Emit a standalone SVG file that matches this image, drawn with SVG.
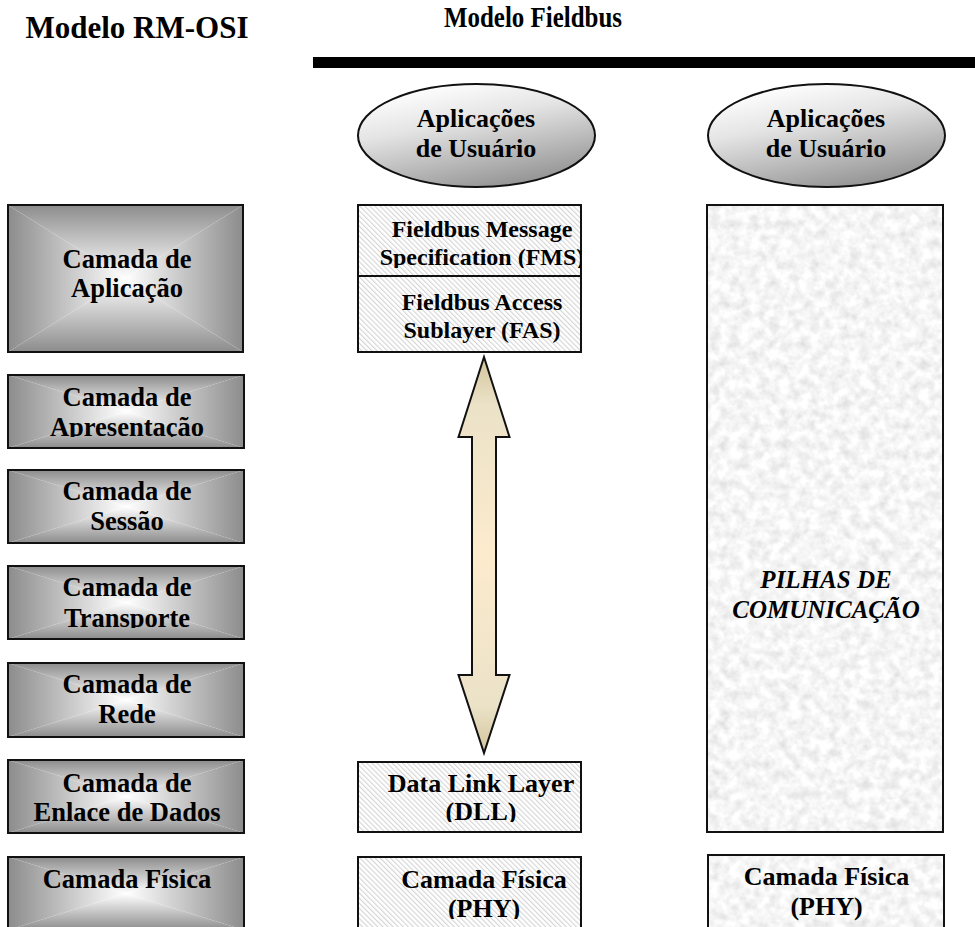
<svg xmlns="http://www.w3.org/2000/svg" width="975" height="927" viewBox="0 0 975 927">
  <defs>
    <style>
      .t { font-family: "Liberation Serif", "Times New Roman", serif; font-weight: bold; fill: #000; text-anchor: middle; }
      .osi { font-size: 26.5px; }
      .fb { font-size: 24px; }
      .fb2 { font-size: 26px; }
      .ell { font-size: 26px; }
      .stack { font-size: 25px; font-style: italic; }
      .edge { fill: none; stroke: #111; stroke-width: 2; }
    </style>

    <!-- rectangular "from centre" shading: four triangles, each fading gray -> white toward the middle -->
    <linearGradient id="gTop" x1="0" y1="0" x2="0" y2="1">
      <stop offset="0" stop-color="#8c8c8c"/>
      <stop offset="1" stop-color="#ffffff"/>
    </linearGradient>
    <linearGradient id="gBottom" x1="0" y1="1" x2="0" y2="0">
      <stop offset="0" stop-color="#8c8c8c"/>
      <stop offset="1" stop-color="#ffffff"/>
    </linearGradient>
    <linearGradient id="gLeft" x1="0" y1="0" x2="1" y2="0">
      <stop offset="0" stop-color="#8c8c8c"/>
      <stop offset="1" stop-color="#ffffff"/>
    </linearGradient>
    <linearGradient id="gRight" x1="1" y1="0" x2="0" y2="0">
      <stop offset="0" stop-color="#8c8c8c"/>
      <stop offset="1" stop-color="#ffffff"/>
    </linearGradient>

    <linearGradient id="gEllipse" x1="0.3" y1="0" x2="0.75" y2="1">
      <stop offset="0" stop-color="#ffffff"/>
      <stop offset="0.35" stop-color="#e4e4e4"/>
      <stop offset="1" stop-color="#8e8e8e"/>
    </linearGradient>

    <linearGradient id="gArrow" x1="0" y1="0" x2="0" y2="1">
      <stop offset="0" stop-color="#d3c59b"/>
      <stop offset="0.12" stop-color="#ebe2c8"/>
      <stop offset="0.5" stop-color="#fdebcd"/>
      <stop offset="0.88" stop-color="#ebe2c8"/>
      <stop offset="1" stop-color="#d3c59b"/>
    </linearGradient>

    <!-- light diagonal hatching -->
    <pattern id="hatch" patternUnits="userSpaceOnUse" width="3.6" height="3.6" patternTransform="rotate(-45)">
      <rect width="3.6" height="3.6" fill="#ffffff"/>
      <rect width="1.1" height="3.6" fill="#d4d4d4"/>
    </pattern>

    <!-- granite-like mottled texture -->
    <filter id="granite" x="0" y="0" width="1" height="1">
      <feTurbulence type="fractalNoise" baseFrequency="0.1" numOctaves="3" seed="7" result="noise"/>
      <feColorMatrix in="noise" type="matrix" result="gray"
        values="0.45 0 0 0 0.69
                0.45 0 0 0 0.69
                0.45 0 0 0 0.69
                0 0 0 0 1"/>
      <feComposite in="gray" in2="SourceGraphic" operator="in"/>
    </filter>

    <!-- text areas of the boxes (text is cut off at the inner margin) -->
    <clipPath id="cApr"><rect x="8" y="375" width="236" height="62"/></clipPath>
    <clipPath id="cTra"><rect x="8" y="566" width="236" height="62"/></clipPath>
    <clipPath id="cFms"><rect x="358" y="205" width="223" height="63"/></clipPath>
    <clipPath id="cDll"><rect x="358" y="762" width="223" height="60"/></clipPath>
    <clipPath id="cPhyM"><rect x="358" y="857" width="223" height="62"/></clipPath>
  </defs>

  <rect width="975" height="927" fill="#ffffff"/>

  <!-- headings -->
  <g id="headings">
    <text class="t" x="137" y="38" style="font-size:31px">Modelo RM-OSI</text>
    <text class="t" x="0" y="27" style="font-size:29px" transform="translate(533 0) scale(0.86 1)">Modelo Fieldbus</text>
    <rect x="313" y="57" width="662" height="11" fill="#000"/>
  </g>

  <!-- OSI reference model column -->
  <g id="osi-aplicacao">
    <path d="M8 205 H243 L125.5 278.5 Z" fill="url(#gTop)"/>
    <path d="M8 352 H243 L125.5 278.5 Z" fill="url(#gBottom)"/>
    <path d="M8 205 V352 L125.5 278.5 Z" fill="url(#gLeft)"/>
    <path d="M243 205 V352 L125.5 278.5 Z" fill="url(#gRight)"/>
    <rect class="edge" x="8" y="205" width="235" height="147"/>
    <text class="t osi" x="127" y="268">Camada de</text>
    <text class="t osi" x="127" y="297">Aplicação</text>
  </g>

  <g id="osi-apresentacao">
    <path d="M8 375 H244 L126 411.5 Z" fill="url(#gTop)"/>
    <path d="M8 448 H244 L126 411.5 Z" fill="url(#gBottom)"/>
    <path d="M8 375 V448 L126 411.5 Z" fill="url(#gLeft)"/>
    <path d="M244 375 V448 L126 411.5 Z" fill="url(#gRight)"/>
    <rect class="edge" x="8" y="375" width="236" height="73"/>
    <g clip-path="url(#cApr)">
      <text class="t osi" x="127" y="405.5">Camada de</text>
      <text class="t osi" x="127" y="436">Apresentação</text>
    </g>
  </g>

  <g id="osi-sessao">
    <path d="M8 470 H244 L126 506.5 Z" fill="url(#gTop)"/>
    <path d="M8 543 H244 L126 506.5 Z" fill="url(#gBottom)"/>
    <path d="M8 470 V543 L126 506.5 Z" fill="url(#gLeft)"/>
    <path d="M244 470 V543 L126 506.5 Z" fill="url(#gRight)"/>
    <rect class="edge" x="8" y="470" width="236" height="73"/>
    <text class="t osi" x="127" y="500">Camada de</text>
    <text class="t osi" x="127" y="530">Sessão</text>
  </g>

  <g id="osi-transporte">
    <path d="M8 566 H244 L126 602.5 Z" fill="url(#gTop)"/>
    <path d="M8 639 H244 L126 602.5 Z" fill="url(#gBottom)"/>
    <path d="M8 566 V639 L126 602.5 Z" fill="url(#gLeft)"/>
    <path d="M244 566 V639 L126 602.5 Z" fill="url(#gRight)"/>
    <rect class="edge" x="8" y="566" width="236" height="73"/>
    <g clip-path="url(#cTra)">
      <text class="t osi" x="127" y="596">Camada de</text>
      <text class="t osi" x="127" y="627">Transporte</text>
    </g>
  </g>

  <g id="osi-rede">
    <path d="M8 663 H244 L126 700 Z" fill="url(#gTop)"/>
    <path d="M8 737 H244 L126 700 Z" fill="url(#gBottom)"/>
    <path d="M8 663 V737 L126 700 Z" fill="url(#gLeft)"/>
    <path d="M244 663 V737 L126 700 Z" fill="url(#gRight)"/>
    <rect class="edge" x="8" y="663" width="236" height="74"/>
    <text class="t osi" x="127" y="693">Camada de</text>
    <text class="t osi" x="127" y="723">Rede</text>
  </g>

  <g id="osi-enlace">
    <path d="M8 760 H244 L126 796.5 Z" fill="url(#gTop)"/>
    <path d="M8 833 H244 L126 796.5 Z" fill="url(#gBottom)"/>
    <path d="M8 760 V833 L126 796.5 Z" fill="url(#gLeft)"/>
    <path d="M244 760 V833 L126 796.5 Z" fill="url(#gRight)"/>
    <rect class="edge" x="8" y="760" width="236" height="73"/>
    <text class="t osi" x="127" y="791.5">Camada de</text>
    <text class="t osi" x="127" y="820.5">Enlace de Dados</text>
  </g>

  <g id="osi-fisica">
    <path d="M8 857 H244 L126 893.5 Z" fill="url(#gTop)"/>
    <path d="M8 930 H244 L126 893.5 Z" fill="url(#gBottom)"/>
    <path d="M8 857 V930 L126 893.5 Z" fill="url(#gLeft)"/>
    <path d="M244 857 V930 L126 893.5 Z" fill="url(#gRight)"/>
    <rect class="edge" x="8" y="857" width="236" height="80"/>
    <text class="t osi" x="127" y="888">Camada Física</text>
  </g>

  <!-- Fieldbus model column -->
  <g id="fb-aplicacoes">
    <ellipse cx="476.5" cy="135.5" rx="118.5" ry="51.5" fill="url(#gEllipse)" stroke="#111" stroke-width="2"/>
    <text class="t ell" x="476" y="127">Aplicações</text>
    <text class="t ell" x="476" y="157">de Usuário</text>
  </g>

  <g id="fb-fms-fas">
    <rect x="358" y="205" width="223" height="147" fill="url(#hatch)"/>
    <rect class="edge" x="358" y="205" width="223" height="147"/>
    <line class="edge" x1="358" y1="276" x2="581" y2="276"/>
    <g clip-path="url(#cFms)">
      <text class="t fb" x="482" y="237">Fieldbus Message</text>
      <text class="t fb" x="482" y="265">Specification (FMS)</text>
    </g>
    <text class="t fb" x="482" y="310">Fieldbus Access</text>
    <text class="t fb" x="482" y="338">Sublayer (FAS)</text>
  </g>

  <g id="fb-dll">
    <rect x="358" y="762" width="223" height="70" fill="url(#hatch)"/>
    <rect class="edge" x="358" y="762" width="223" height="70"/>
    <g clip-path="url(#cDll)">
      <text class="t fb2" x="481" y="791.5">Data Link Layer</text>
      <text class="t fb2" x="481" y="820">(DLL)</text>
    </g>
  </g>

  <g id="fb-phy">
    <rect x="358" y="857" width="223" height="80" fill="url(#hatch)"/>
    <rect class="edge" x="358" y="857" width="223" height="80"/>
    <g clip-path="url(#cPhyM)">
      <text class="t fb2" x="484" y="888">Camada Física</text>
      <text class="t fb2" x="484" y="916.5">(PHY)</text>
    </g>
  </g>

  <!-- right column: generic communication stack -->
  <g id="usr-aplicacoes">
    <ellipse cx="826.5" cy="135.5" rx="118.5" ry="51.5" fill="url(#gEllipse)" stroke="#111" stroke-width="2"/>
    <text class="t ell" x="826" y="127">Aplicações</text>
    <text class="t ell" x="826" y="157">de Usuário</text>
  </g>

  <g id="pilhas">
    <rect x="707" y="205" width="236" height="627" fill="#fff" filter="url(#granite)"/>
    <rect class="edge" x="707" y="205" width="236" height="627"/>
    <text class="t stack" x="826" y="588">PILHAS DE</text>
    <text class="t stack" x="826" y="618">COMUNICAÇÃO</text>
  </g>

  <g id="usr-phy">
    <rect x="708" y="855" width="236" height="80" fill="#fff" filter="url(#granite)"/>
    <rect class="edge" x="708" y="855" width="236" height="80"/>
    <text class="t fb2" x="826.5" y="885">Camada Física</text>
    <text class="t fb2" x="826.5" y="915">(PHY)</text>
  </g>

  <!-- connectors -->
  <g id="connectors">
    <polygon points="484,357 509.5,437 496,437 496,675 509.5,675 484,753 458.5,675 472,675 472,437 458.5,437"
             fill="url(#gArrow)" stroke="#111" stroke-width="2" stroke-linejoin="miter"/>
  </g>
</svg>
